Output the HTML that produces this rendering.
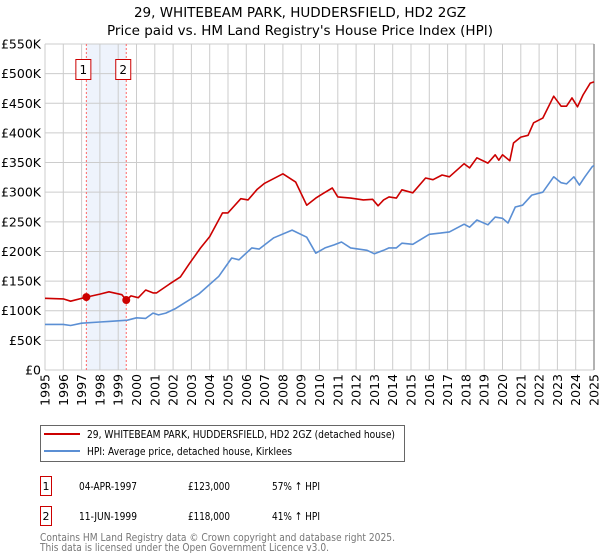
<!DOCTYPE html>
<html><head><meta charset="utf-8"><style>
body{margin:0;background:#fff;font-family:"Liberation Sans","DejaVu Sans",sans-serif;}
svg{display:block}
</style></head><body>
<svg id="c" width="600" height="560" xmlns="http://www.w3.org/2000/svg" font-family="DejaVu Sans, Liberation Sans, sans-serif">
<text x="300" y="17" text-anchor="middle" font-size="13.5" fill="#000">29, WHITEBEAM PARK, HUDDERSFIELD, HD2 2GZ</text>
<text x="300" y="35" text-anchor="middle" font-size="13.5" fill="#000">Price paid vs. HM Land Registry's House Price Index (HPI)</text>
<g id="grid"></g>
<g id="marks"></g>
<g id="axes"></g>
<g>
<rect x="40.5" y="425.5" width="364" height="36" fill="#fff" stroke="#666"/>
<line x1="44" y1="434" x2="80" y2="434" stroke="#cc0000" stroke-width="2"/>
<text x="87" y="438" font-size="11" textLength="308" lengthAdjust="spacingAndGlyphs">29, WHITEBEAM PARK, HUDDERSFIELD, HD2 2GZ (detached house)</text>
<line x1="44" y1="451" x2="80" y2="451" stroke="#5b8fd4" stroke-width="2"/>
<text x="87" y="455" font-size="11" textLength="205" lengthAdjust="spacingAndGlyphs">HPI: Average price, detached house, Kirklees</text>
</g>
<g font-size="11">
<rect x="40.5" y="476.5" width="11" height="19" fill="#fff" stroke="#cc0000"/>
<text x="46" y="490" text-anchor="middle">1</text>
<text x="79" y="490" textLength="58" lengthAdjust="spacingAndGlyphs">04-APR-1997</text><text x="188" y="490" textLength="42" lengthAdjust="spacingAndGlyphs">£123,000</text><text x="272" y="490" textLength="48" lengthAdjust="spacingAndGlyphs">57% ↑ HPI</text>
<rect x="40.5" y="506.5" width="11" height="19" fill="#fff" stroke="#cc0000"/>
<text x="46" y="520" text-anchor="middle">2</text>
<text x="79" y="520" textLength="58" lengthAdjust="spacingAndGlyphs">11-JUN-1999</text><text x="188" y="520" textLength="42" lengthAdjust="spacingAndGlyphs">£118,000</text><text x="272" y="520" textLength="48" lengthAdjust="spacingAndGlyphs">41% ↑ HPI</text>
</g>
<text x="40" y="541" font-size="11" fill="#777" textLength="355" lengthAdjust="spacingAndGlyphs">Contains HM Land Registry data © Crown copyright and database right 2025.</text>
<text x="40" y="551" font-size="11" fill="#777" textLength="289" lengthAdjust="spacingAndGlyphs">This data is licensed under the Open Government Licence v3.0.</text>
</svg>
<script>
const hpiYears=[1995,1996,1996.4,1997,1998,1998.5,1999,1999.5,2000,2000.5,2000.9,2001.2,2001.6,2002.1,2003.4,2004.5,2005.2,2005.6,2006.3,2006.7,2007.5,2008.5,2009.3,2009.8,2010.3,2010.8,2011.2,2011.7,2012.6,2013,2013.5,2013.8,2014.2,2014.5,2015.1,2016,2016.6,2017.1,2017.9,2018.2,2018.6,2019.2,2019.6,2020,2020.3,2020.7,2021.1,2021.6,2022.2,2022.8,2023.2,2023.5,2023.9,2024.2,2024.5,2024.9,2025];
const hpiValues=[77,77,75,79,81,82,83,84,88,87,96,93,96,103,128,158,189,186,206,204,223,236,224,197,206,211,216,206,202,196,202,206,206,214,212,229,231,233,246,241,253,245,258,256,248,275,278,295,300,326,316,314,326,312,326,343,345];
const priceYears=[1995,1996,1996.4,1997.26,1998,1998.5,1999.2,1999.44,1999.7,2000.1,2000.5,2000.9,2001.1,2001.8,2002.4,2002.9,2003.5,2004,2004.7,2005,2005.7,2006.1,2006.6,2007,2008,2008.7,2009.3,2009.8,2010.2,2010.7,2011,2011.7,2012.4,2012.9,2013.2,2013.5,2013.8,2014.2,2014.5,2015.1,2015.8,2016.2,2016.7,2017.1,2017.9,2018.2,2018.6,2019.2,2019.6,2019.8,2020,2020.4,2020.6,2021,2021.4,2021.7,2022.2,2022.8,2023.2,2023.5,2023.8,2024.1,2024.4,2024.8,2025];
const priceValues=[121,120,116,123,128,132,127,118,125,122,135,130,130,145,157,180,206,225,265,265,289,287,305,315,331,317,278,290,298,307,292,290,287,288,277,287,292,290,304,299,324,321,329,326,348,341,358,349,363,354,363,353,383,393,396,417,425,462,445,445,459,444,464,484,486];
const saleYears=[1997.26,1999.44];
const saleValues=[123,118];
const saleLabels=["1","2"];
const yTicks=[0,50,100,150,200,250,300,350,400,450,500,550];
const yTickLabels=["£0","£50K","£100K","£150K","£200K","£250K","£300K","£350K","£400K","£450K","£500K","£550K"];
const xTicks=[];for(let y=1995;y<=2025;y++)xTicks.push(y);

const NS="http://www.w3.org/2000/svg";
const X0=45,X1=594,Y0=370,Y1=44;
const xs=v=>X0+(v-1995)*(X1-X0)/30;
const ys=v=>Y0-v*(Y0-Y1)/550;
function mk(tag,attrs,parent){const e=document.createElementNS(NS,tag);for(const k in attrs)e.setAttribute(k,attrs[k]);parent.appendChild(e);return e;}
const grid=document.getElementById('grid'),marks=document.getElementById('marks'),axes=document.getElementById('axes');
let band=mk('rect',{x:xs(saleYears[0]),y:Y1,width:xs(saleYears[1])-xs(saleYears[0]),height:Y0-Y1,fill:'#eef3fc'},grid);


yTicks.forEach((t,i)=>{
  const l=mk('line',{x1:X0,x2:X1,y1:ys(t),y2:ys(t),stroke:'#cccccc','stroke-width':1},grid);
  
  
  const tx=mk('text',{x:X0-4,y:ys(t)+4.5,'text-anchor':'end','font-size':12.5,fill:'#000'},axes);
  tx.textContent=yTickLabels[i];
  
  
});
xTicks.forEach(t=>{
  const l=mk('line',{x1:xs(t),x2:xs(t),y1:Y1,y2:Y0,stroke:'#cccccc','stroke-width':1},grid);
  
  
  const tx=mk('text',{x:0,y:0,'text-anchor':'end','font-size':12.5,fill:'#000',transform:`translate(${xs(t)+4.5},374) rotate(-90)`},axes);
  tx.textContent=t;
  
  
});
mk('line',{x1:X1,x2:X1,y1:Y1,y2:Y0,stroke:'#999','stroke-width':1.5},grid);
saleYears.forEach((s,i)=>{
  const l=mk('line',{x1:xs(s),x2:xs(s),y1:Y1,y2:Y0,stroke:'#ff6666','stroke-width':1,'stroke-dasharray':'2,2'},grid);
  
  
  const r=mk('rect',{x:xs(s)-10.5,y:59.5,width:15,height:20,fill:'#fff',stroke:'#cc0000'},marks);
  
  
  const t=mk('text',{x:xs(s)-3,y:74,'text-anchor':'middle','font-size':12},marks);
  t.textContent=saleLabels[i];
  
  
});
function path(xv,yv,color,name){
  const d=xv.map((x,i)=>(i?'L':'M')+xs(x).toFixed(1)+','+ys(yv[i]).toFixed(1)).join('');
  const p=mk('path',{d:d,fill:'none',stroke:color,'stroke-width':1.6,'stroke-linejoin':'round'},marks);
  
  
}
path(hpiYears,hpiValues,'#5b8fd4','hpi-line');
path(priceYears,priceValues,'#cc0000','price-line');
saleYears.forEach((s,i)=>{
  const c=mk('circle',{cx:xs(s),cy:ys(saleValues[i]),r:4,fill:'#cc0000'},marks);
  
  
});
</script>
</body></html>
